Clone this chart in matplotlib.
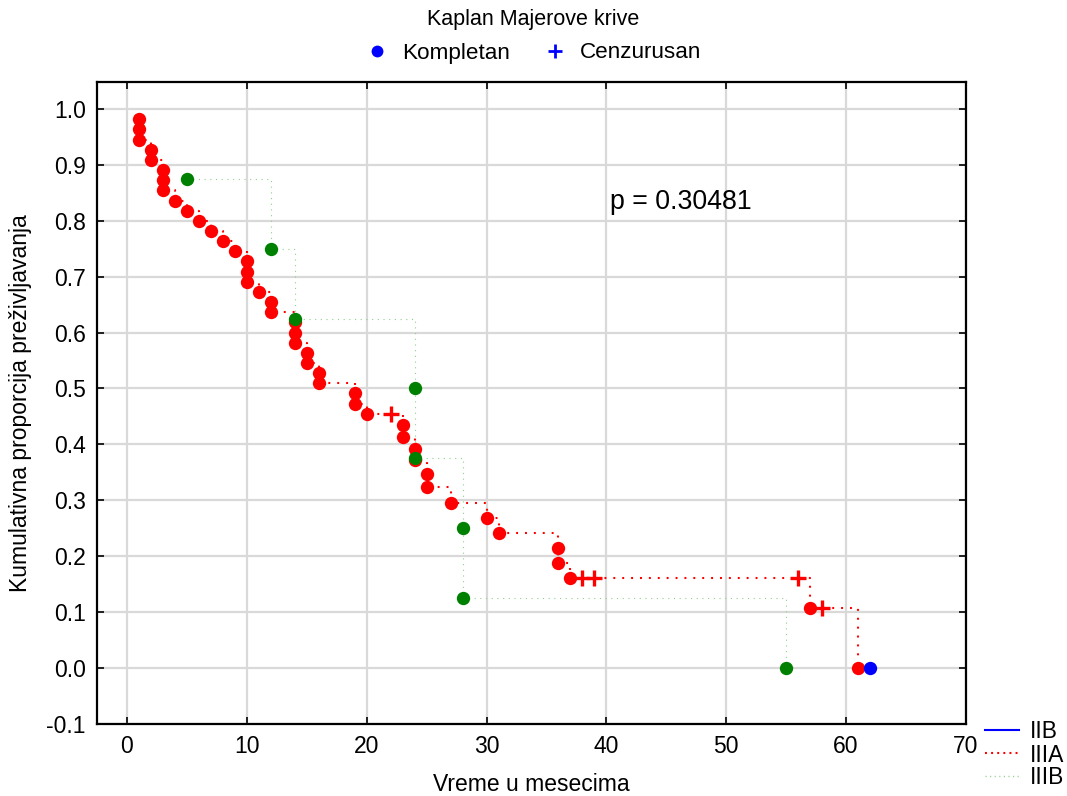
import numpy as np
import matplotlib
matplotlib.use("Agg")
import matplotlib.pyplot as plt
from matplotlib.lines import Line2D

plt.rcParams["font.family"] = ["Liberation Sans", "DejaVu Sans"]
plt.rcParams["lines.scale_dashes"] = False

# ── data ─────────────────────────────────────────────────────────────────────
# IIIA: event times / survival, censored times / survival
iiia_t = [1, 1, 1, 2, 2, 3, 3, 3, 4, 5, 6, 7, 8, 9, 10, 10, 10, 11, 12, 12,
          14, 14, 14, 15, 15, 16, 16, 19, 19, 20, 23, 23, 24, 24, 25, 25,
          27, 30, 31, 36, 36, 37, 57, 61]
iiia_s = [0.982, 0.964, 0.945, 0.927, 0.909, 0.891, 0.873, 0.855, 0.836,
          0.818, 0.800, 0.782, 0.764, 0.745, 0.727, 0.709, 0.691, 0.673,
          0.655, 0.636, 0.618, 0.600, 0.582, 0.564, 0.545, 0.527, 0.509,
          0.491, 0.473, 0.455, 0.434, 0.413, 0.392, 0.372, 0.347, 0.323,
          0.296, 0.268, 0.241, 0.214, 0.188, 0.161, 0.107, 0.0]
iiia_cens_t = [22, 38, 39, 56, 58]
iiia_cens_s = [0.455, 0.161, 0.161, 0.161, 0.107]

# IIIB
iiib_t = [5, 12, 14, 24, 24, 28, 28, 55]
iiib_s = [0.875, 0.75, 0.625, 0.5, 0.375, 0.25, 0.125, 0.0]

# IIB
iib_t = [62]
iib_s = [0.0]

p_text = "p = 0.30481"


def step_path(t, s, cens_t=(), cens_s=()):
    pts = sorted(list(zip(t, s)) + list(zip(cens_t, cens_s)),
                 key=lambda p: (p[0], -p[1]))
    xs, ys = [pts[0][0]], [pts[0][1]]
    for x, y in pts[1:]:
        xs += [x, x]
        ys += [ys[-1], y]
    return xs, ys


W, H = 1067, 796
fig = plt.figure(figsize=(W / 100, H / 100), dpi=100)
ax = fig.add_axes([0.0909, 0.0905, 0.8144, 0.8065])

ax.grid(True, color="#d9d9d9", lw=1.6)
ax.set_axisbelow(True)

# IIIB line + points
xs, ys = step_path(iiib_t, iiib_s)
ax.plot(xs, ys, color="#8fd08f", lw=0.8, dashes=(0.8, 3.3), zorder=2)
ax.plot(iiib_t, iiib_s, "o", color="#008000", ms=9.6, mec="none", zorder=4)

# IIIA line + points
xs, ys = step_path(iiia_t, iiia_s, iiia_cens_t, iiia_cens_s)
ax.plot(xs, ys, color="red", lw=1.5, dashes=(1.4, 5.0), zorder=2)
ax.plot(iiia_t, iiia_s, "o", color="red", ms=9.6, mec="none", zorder=3)
ax.plot(iiia_cens_t, iiia_cens_s, "+", color="red", ms=11, mew=2.4, zorder=3)

# IIB point
ax.plot(iib_t, iib_s, "o", color="blue", ms=9.6, mec="none", zorder=3)

ax.text(40.3, 0.833, p_text, fontsize=19.3, va="center", ha="left")

ax.set_xlim(-2.5, 70)
ax.set_ylim(-0.1, 1.048)
ax.set_xticks(np.arange(0, 71, 10))
ax.set_yticks(np.arange(-0.1, 1.01, 0.1))
ax.set_yticklabels([f"{v:.1f}" for v in np.arange(-0.1, 1.01, 0.1)])
ax.tick_params(direction="in", length=5, width=1.2, labelsize=16.5,
               top=True, right=True, pad=8)
for sp in ax.spines.values():
    sp.set_linewidth(1.6)

ax.set_xlabel("Vreme u mesecima", fontsize=16.5, labelpad=11)
ax.set_ylabel("Kumulativna proporcija preživljavanja", fontsize=16.5, labelpad=10)

# top legend
fig.text(0.5, 1 - 20 / H, "Kaplan Majerove krive", fontsize=15.5,
         ha="center", va="center")
top_handles = [
    Line2D([], [], ls="none", marker="o", color="blue", ms=8.5, mec="none"),
    Line2D([], [], ls="none", marker="+", color="blue", ms=9.5, mew=2),
]
fig.legend(top_handles, ["Kompletan", "Cenzurusan"], ncol=2,
           loc="center", bbox_to_anchor=(0.5, 1 - 53 / H),
           frameon=False, fontsize=16.2, handlelength=1.0, columnspacing=1.5,
           handletextpad=0.6, borderpad=0.0)

# group legend bottom right
grp_handles = [
    Line2D([], [], color="blue", lw=1.5),
    Line2D([], [], color="red", lw=1.5, dashes=(1.4, 3.0)),
    Line2D([], [], color="#8fd08f", lw=1.0, dashes=(0.8, 2.5)),
]
fig.legend(grp_handles, ["IIB", "IIIA", "IIIB"], loc="center left",
           bbox_to_anchor=(985 / W, 1 - 755 / H), frameon=False,
           fontsize=16.5, handlelength=1.5, labelspacing=0.0,
           handletextpad=0.45, borderpad=0.0, borderaxespad=0.0)

fig.savefig("out.png", dpi=100)
